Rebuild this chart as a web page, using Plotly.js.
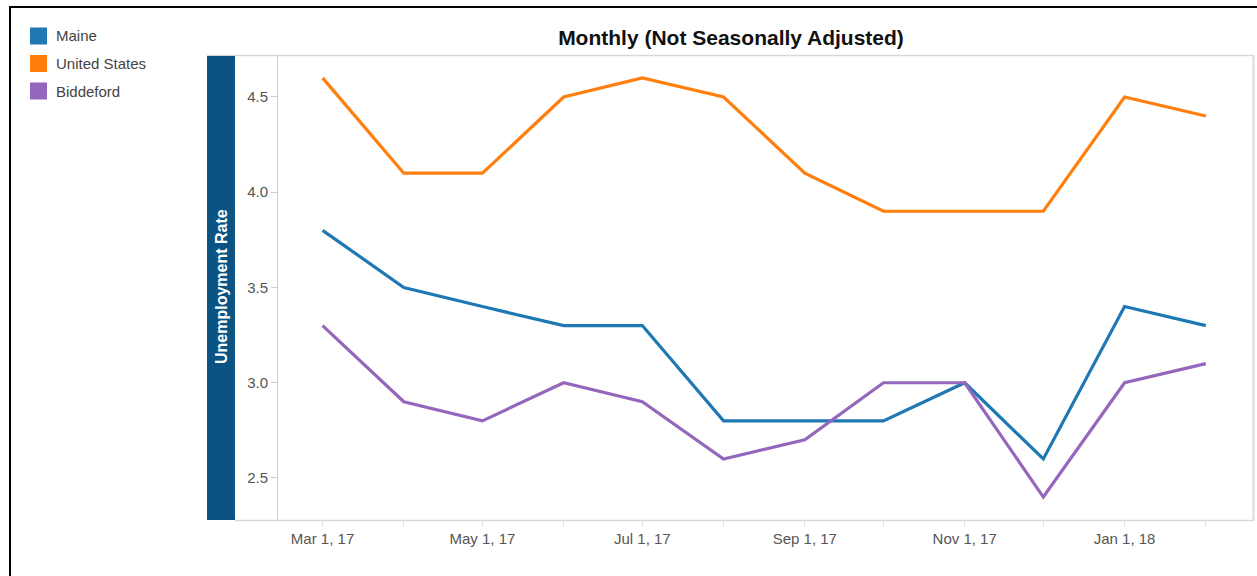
<!DOCTYPE html>
<html>
<head>
<meta charset="utf-8">
<script src="https://cdn.plot.ly/plotly-3.0.1.min.js"></script>
<style>html,body{margin:0;padding:0;background:#fff;}#chart{width:1257px;height:576px;}</style>
</head>
<body>
<div id="chart"></div>
<script>
const months = ["2017-03-01","2017-04-01","2017-05-01","2017-06-01","2017-07-01","2017-08-01","2017-09-01","2017-10-01","2017-11-01","2017-12-01","2018-01-01","2018-02-01"];
const seriesNames = ["Maine","United States","Biddeford"];
const maine = [3.8,3.5,3.4,3.3,3.3,2.8,2.8,2.8,3.0,2.6,3.4,3.3];
const unitedStates = [4.6,4.1,4.1,4.5,4.6,4.5,4.1,3.9,3.9,3.9,4.5,4.4];
const biddeford = [3.3,2.9,2.8,3.0,2.9,2.6,2.7,3.0,3.0,2.4,3.0,3.1];
const yTickVals = [2.5,3.0,3.5,4.0,4.5];
const colors = ["#1f77b4","#ff7f0e","#9467bd"];
const values = [maine, unitedStates, biddeford];

const W = 1257, H = 576;
const L = 278, R = 1253, T = 56, B = 520;
const px = x => (x - L) / (R - L);
const py = y => (B - y) / (B - T);
const FONT = "Liberation Sans, Arial";

const traces = values.map((v, i) => ({
  x: months, y: v, type: "scatter", mode: "lines", name: seriesNames[i],
  line: {color: colors[i], width: 3.2}, showlegend: false, hoverinfo: "x+y+name"
}));

const shapes = [
  {type:"line", xref:"paper", yref:"paper", x0:px(9), x1:px(1257), y0:py(7), y1:py(7), line:{color:"#000", width:2}},
  {type:"line", xref:"paper", yref:"paper", x0:px(10), x1:px(10), y0:py(7), y1:py(576), line:{color:"#000", width:2}},
  {type:"line", xref:"paper", yref:"paper", x0:px(207), x1:px(1254), y0:py(55.5), y1:py(55.5), line:{color:"#d9d9d9", width:1.5}},
  {type:"line", xref:"paper", yref:"paper", x0:px(1253.5), x1:px(1253.5), y0:py(55.5), y1:py(520.5), line:{color:"#d9d9d9", width:2}},
  {type:"line", xref:"paper", yref:"paper", x0:px(235), x1:px(1254), y0:py(520.5), y1:py(520.5), line:{color:"#d9d9d9", width:1.5}},
  {type:"rect", xref:"paper", yref:"paper", x0:px(207), x1:px(235), y0:py(520), y1:py(56), fillcolor:"#0b5383", line:{width:0}}
];

const annotations = [
  {xref:"paper", yref:"paper", x:px(221), y:py(287), text:"<b>Unemployment Rate</b>", textangle:-90, showarrow:false,
   font:{family:FONT, size:16, color:"#ffffff"}, xanchor:"center", yanchor:"middle"}
];

seriesNames.forEach((n, i) => {
  const yc = 36 + i * 27.5;
  shapes.push({type:"rect", xref:"paper", yref:"paper", x0:px(30), x1:px(47), y0:py(yc + 8.5), y1:py(yc - 8.5), fillcolor:colors[i], line:{width:0}});
  annotations.push({xref:"paper", yref:"paper", x:px(54), y:py(yc), text:n, showarrow:false, xanchor:"left", yanchor:"middle",
    font:{family:FONT, size:15, color:"#444"}});
});

const layout = {
  width: W, height: H,
  margin: {l: L, r: W - R, t: T, b: H - B, pad: 0},
  paper_bgcolor: "#fff", plot_bgcolor: "#fff",
  title: {text: "<b>Monthly (Not Seasonally Adjusted)</b>", x: 731 / W, xref: "container", xanchor: "center",
          y: 1 - 38 / H, yref: "container", yanchor: "middle",
          font: {family: FONT, size: 21, color: "#111"}},
  xaxis: {
    type: "date", range: ["2017-02-12", "2018-02-19"],
    tickvals: ["2017-03-01","2017-05-01","2017-07-01","2017-09-01","2017-11-01","2018-01-01"],
    tickformat: "%b %-d, %y", showgrid: false, zeroline: false,
    showline: false, ticks: "outside", ticklen: 5, tickcolor: "#e0e0e0",
    tickfont: {family: FONT, size: 15, color: "#555"},
    minor: {tickvals: months, ticks: "outside", ticklen: 5, tickcolor: "#e0e0e0", showgrid: false}
  },
  yaxis: {
    range: [2.2795, 4.715], tickvals: yTickVals, ticktext: yTickVals.map(v => v.toFixed(1)),
    showgrid: false, zeroline: false, showline: true, linecolor: "#cfcfcf", linewidth: 1,
    ticks: "outside", ticklen: 6, tickcolor: "#cfcfcf",
    tickfont: {family: FONT, size: 15, color: "#555"}
  },
  shapes: shapes, annotations: annotations, showlegend: false
};

Plotly.newPlot("chart", traces, layout, {displayModeBar: false, staticPlot: true});
</script>
</body>
</html>
